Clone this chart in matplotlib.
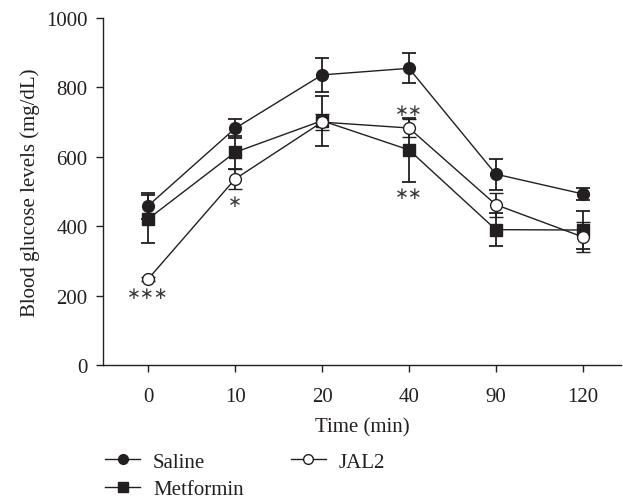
import matplotlib
matplotlib.use("Agg")
import matplotlib.pyplot as plt
import numpy as np
from matplotlib.lines import Line2D

plt.rcParams['font.family'] = ['Liberation Serif', 'DejaVu Serif']
plt.rcParams['font.size'] = 15

times = ["0", "10", "20", "40", "90", "120"]
saline = [459, 682, 836, 855, 550, 493]
saline_err = [37, 28, 48, 43, 45, 18]
metformin = [421, 613, 704, 620, 390, 389]
metformin_err = [70, 48, 72, 92, 48, 54]
jal2 = [248, 536, 700, 683, 462, 369]
jal2_err = [6, 28, 22, 25, 35, 42]

# significance marks: (category index, value level, text)
sig_marks = [(0, 207, "∗∗∗"), (1, 473, "∗"), (3, 736, "∗∗"), (3, 496, "∗∗")]

ink = '#231f20'
fig = plt.figure(figsize=(6.23, 5.02), dpi=100)
ax = fig.add_axes([103/623, 1-366/502, (621-103)/623, (366-19)/502])

x = np.arange(len(times))
ekw = dict(ecolor=ink, elinewidth=1.3, capsize=5, capthick=1.3)
ax.errorbar(x, saline, yerr=saline_err, color=ink, lw=1.0, marker='o', ms=8.5,
            mfc=ink, mec=ink, label='Saline', **ekw)
ax.errorbar(x, metformin, yerr=metformin_err, color=ink, lw=1.0, marker='s', ms=8,
            mfc=ink, mec=ink, label='Metformin', **ekw)
ax.errorbar(x, jal2, yerr=jal2_err, color=ink, lw=1.0, marker='o', ms=8.5,
            mfc='white', mec=ink, mew=1.0, label='JAL2', **ekw)

for i, v, t in sig_marks:
    ax.text(x[i], v, t, ha='center', va='center', fontsize=12,
            family=['DejaVu Sans'], color='#3a3a3a')

ax.set_xlim(-0.52, 5.44)
ax.set_ylim(0, 1000)
ax.set_xticks(x)
ax.set_xticklabels(times)
ax.set_yticks([0, 200, 400, 600, 800, 1000])
for s in ['top', 'right']:
    ax.spines[s].set_visible(False)
for s in ['left', 'bottom']:
    ax.spines[s].set_color(ink)
    ax.spines[s].set_linewidth(1.0)
ax.tick_params(direction='out', length=5, width=1.0, color=ink, labelcolor=ink)
ax.tick_params(axis='x', pad=10.5)
ax.tick_params(axis='y', pad=6)
ax.set_xlabel('Time (min)', color=ink, labelpad=8.5)
ax.set_ylabel('Blood glucose levels (mg/dL)', color=ink)
ax.yaxis.set_label_coords(-0.121, 0.5)

lh = [Line2D([], [], color=ink, lw=1.0, marker='o', ms=7, mfc=ink, mec=ink),
      Line2D([], [], color=ink, lw=1.0, marker='s', ms=7, mfc=ink, mec=ink),
      Line2D([], [], color=ink, lw=1.0, marker='o', ms=7, mfc='white', mec=ink)]
fig.legend(lh, ['Saline', 'Metformin', 'JAL2'], ncol=2, frameon=False,
           loc='upper left', bbox_to_anchor=(105/623, 1-453/502),
           borderpad=0, borderaxespad=0, handlelength=1.68, handletextpad=0.63,
           columnspacing=2.26, labelspacing=0.4, fontsize=15, labelcolor=ink)

fig.savefig('out.png', dpi=100)
